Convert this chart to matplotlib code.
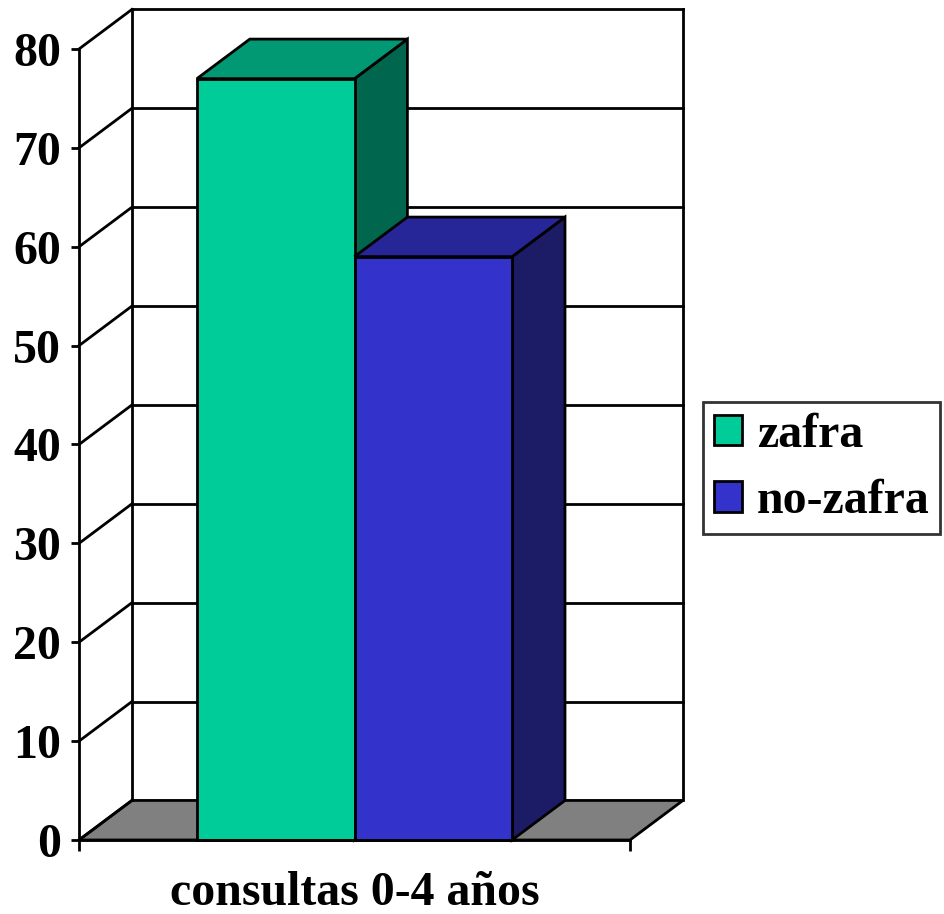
import matplotlib.pyplot as plt
from matplotlib.patches import Polygon, Patch

# data
series = ["zafra", "no-zafra"]
values = [77, 59]
category = "consultas 0-4 años"
yticks = [0, 10, 20, 30, 40, 50, 60, 70, 80]

# front / top / side shades for each series
front_colors = ["#00CC99", "#3333CC"]
top_colors = ["#009973", "#262699"]
side_colors = ["#00664D", "#1C1C66"]

font = {"family": "Liberation Serif", "weight": "bold", "size": 34.5}

fig = plt.figure(figsize=(9.44, 9.14), dpi=100)
# axes = the front plane of the 3-D box
ax = fig.add_axes([79 / 944, 74 / 914, 551 / 944, 791 / 914])
ax.set_xlim(0, 1)
ax.set_ylim(0, 80)

dx, dy = 0.096, 4.0  # depth offset (x units, value units)
lw = 2.0

# floor
ax.add_patch(Polygon([(0, 0), (1, 0), (1 + dx, dy), (dx, dy)], closed=True,
                     fc="#808080", ec="black", lw=lw, clip_on=False, zorder=1))

# back wall + left wall gridlines
for t in yticks[1:]:
    ax.plot([dx, 1 + dx], [t + dy, t + dy], color="black", lw=lw, clip_on=False, zorder=1)
for t in yticks:
    ax.plot([0, dx], [t, t + dy], color="black", lw=lw, clip_on=False, zorder=1)
ax.plot([dx, dx], [dy, 80 + dy], color="black", lw=lw, clip_on=False, zorder=1)
ax.plot([1 + dx, 1 + dx], [dy, 80 + dy], color="black", lw=lw, clip_on=False, zorder=1)

# 3-D bars
w = 0.286
start = 0.5 - w * len(values) / 2
for i, v in enumerate(values):
    x0 = start + i * w
    x1 = x0 + w
    side = [(x1, 0), (x1 + dx, dy), (x1 + dx, v + dy), (x1, v)]
    top = [(x0, v), (x1, v), (x1 + dx, v + dy), (x0 + dx, v + dy)]
    front = [(x0, 0), (x1, 0), (x1, v), (x0, v)]
    for pts, c in [(side, side_colors[i]), (top, top_colors[i]), (front, front_colors[i])]:
        ax.add_patch(Polygon(pts, closed=True, fc=c, ec="black", lw=lw,
                             clip_on=False, zorder=3 + i, joinstyle="miter"))

# axes lines and ticks
for s in ["top", "right"]:
    ax.spines[s].set_visible(False)
for s in ["left", "bottom"]:
    ax.spines[s].set_linewidth(lw)
    ax.spines[s].set_zorder(6)
ax.set_yticks(yticks)
ax.set_yticklabels([str(t) for t in yticks], fontdict=font)
ax.set_xticks([0, 1])
ax.set_xticklabels(["", ""])
ax.tick_params(axis="y", direction="out", length=6, width=lw, pad=7)
ax.tick_params(axis="x", direction="out", length=8, width=lw)
ax.set_xlabel(category, fontdict=font, labelpad=11)
ax.patch.set_visible(False)

# legend
handles = [Patch(fc=c, ec="black", lw=lw) for c in front_colors]
leg = fig.legend(handles, series, loc="center left",
                 bbox_to_anchor=(703 / 944, 1 - 468 / 914),
                 bbox_transform=fig.transFigure, prop=font,
                 frameon=True, fancybox=False, edgecolor="black",
                 borderaxespad=0, handlelength=0.6, handleheight=0.6,
                 handletextpad=0.3, labelspacing=0.47, borderpad=0.22)
leg.get_frame().set_linewidth(lw)

fig.savefig("out.png", dpi=100)
